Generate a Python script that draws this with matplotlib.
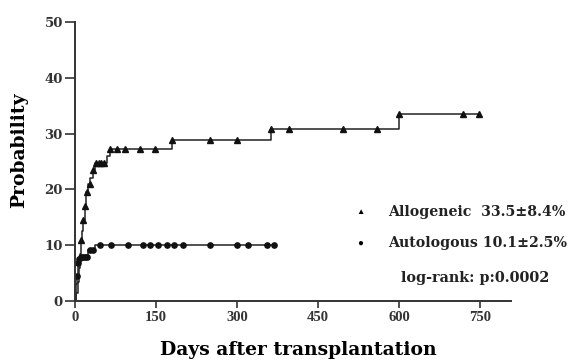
import numpy as np
import matplotlib
matplotlib.use("Agg")
import matplotlib.pyplot as plt

# Allogeneic cumulative incidence (step function)
allo_t = [0, 2, 4, 6, 8, 10, 12, 14, 17, 20, 24, 28, 33, 36, 58, 64, 179, 362, 600, 750]
allo_y = [0, 1.5, 3.5, 6.0, 8.5, 11.0, 12.5, 14.5, 17.0, 19.6, 21.0, 22.0, 23.5, 24.8, 26.0, 27.2, 28.9, 30.8, 33.6, 33.6]
allo_cens = [11, 14, 17, 21, 27, 33, 38, 43, 48, 54, 64, 77, 92, 120, 148, 179, 250, 300, 362, 397, 497, 559, 600, 719, 749]

# Autologous cumulative incidence (step function)
auto_t = [0, 1, 2, 3, 4, 5, 6, 8, 24, 36, 371]
auto_y = [0, 1.5, 3.0, 4.5, 5.8, 6.8, 7.5, 7.9, 9.2, 10.1, 10.1]
auto_cens = [3, 5, 7, 10, 14, 18, 22, 28, 32, 45, 67, 98, 126, 139, 154, 170, 182, 200, 250, 300, 321, 356, 368]

xticks = [0, 150, 300, 450, 600, 750]
yticks = [0, 10, 20, 30, 40, 50]

legend_labels = ["Allogeneic  33.5\u00b18.4%", "Autologous 10.1\u00b12.5%"]
stat_text = "log-rank: p:0.0002"


def step_at(times, vals, q):
    times = np.asarray(times)
    vals = np.asarray(vals)
    idx = np.searchsorted(times, q, side="right") - 1
    return vals[np.clip(idx, 0, len(vals) - 1)]


plt.rcParams['font.family'] = ['Liberation Serif', 'DejaVu Serif']
wide = ['DejaVu Serif']

fig = plt.figure(figsize=(5.71, 3.61), dpi=100)
ax = fig.add_axes([0.132, 0.166, 0.763, 0.773])

ax.plot(allo_t, allo_y, drawstyle='steps-post', color='#222222', lw=1.1)
ax.plot(auto_t, auto_y, drawstyle='steps-post', color='#222222', lw=1.1)
ax.plot(allo_cens, step_at(allo_t, allo_y, np.array(allo_cens)), ls='none',
        marker='^', ms=4.0, color='#111111')
ax.plot(auto_cens, step_at(auto_t, auto_y, np.array(auto_cens)), ls='none',
        marker='o', ms=3.8, color='#111111')

ax.set_xlim(0, 808)
ax.set_ylim(0, 50)
ax.set_xticks(xticks)
ax.set_yticks(yticks)
ax.spines['top'].set_visible(False)
ax.spines['right'].set_visible(False)
for s in ['left', 'bottom']:
    ax.spines[s].set_linewidth(1.4)
    ax.spines[s].set_color('#333333')
ax.tick_params(axis='x', direction='out', length=5, width=1.2, colors='#333333',
               labelsize=10.5, pad=2)
ax.tick_params(axis='y', direction='out', length=7, width=1.2, colors='#333333',
               labelsize=9.5, pad=2)
for lab in ax.get_xticklabels():
    lab.set_fontweight('bold')
for lab in ax.get_yticklabels():
    lab.set_fontweight('bold')
    lab.set_family(wide)

ax.set_xlabel("Days after transplantation", fontsize=13.5, fontweight='bold',
              family=wide)
ax.set_ylabel("Probability", fontsize=13.5, fontweight='bold', family=wide)
ax.xaxis.set_label_coords(0.512, -0.143)
ax.yaxis.set_label_coords(-0.108, 0.541)

# legend-like annotation
fig.text(360 / 571, 1 - 212 / 361, "\u25b2", fontsize=6, ha='center', va='center')
fig.text(360 / 571, 1 - 243 / 361, "\u25cf", fontsize=7, ha='center', va='center')
fig.text(388 / 571, 1 - 212 / 361, legend_labels[0], fontsize=10.2, fontweight='bold',
         family=wide, ha='left', va='center', color='#222222')
fig.text(388 / 571, 1 - 243 / 361, legend_labels[1], fontsize=10.2, fontweight='bold',
         family=wide, ha='left', va='center', color='#222222')
fig.text(475 / 571, 1 - 278 / 361, stat_text, fontsize=10.4, fontweight='bold',
         family=wide, ha='center', va='center', color='#222222')

fig.savefig("out.png", dpi=100)
